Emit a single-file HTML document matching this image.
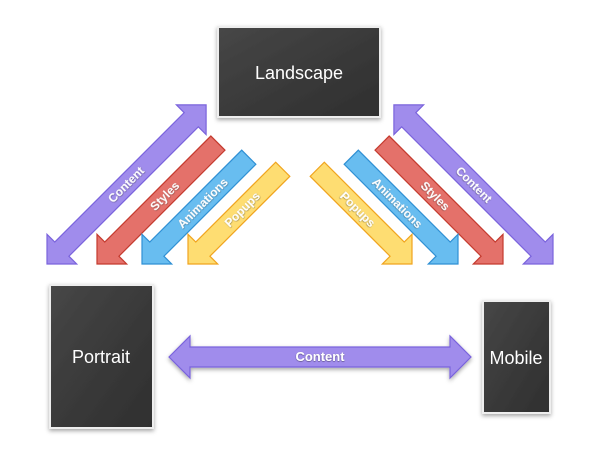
<!DOCTYPE html>
<html><head><style>
body{margin:0;background:#fff;width:600px;height:463px;overflow:hidden}
svg{display:block}
text{font-family:"Liberation Sans",sans-serif}
.lb{font-weight:bold;font-size:12px;fill:#fff}
.bx{font-size:18px;fill:#fff}
</style></head><body>
<svg width="600" height="463" viewBox="0 0 600 463">
<defs>
<linearGradient id="board" x1="0" y1="0" x2="1" y2="1"><stop offset="0" stop-color="#474747"/><stop offset="0.5" stop-color="#3a3a3a"/><stop offset="1" stop-color="#2f2f2f"/></linearGradient>
<filter id="sh" x="-20%" y="-20%" width="140%" height="140%"><feDropShadow dx="0" dy="2" stdDeviation="2" flood-color="#000" flood-opacity="0.35"/></filter>
<filter id="ts"><feDropShadow dx="0" dy="0.5" stdDeviation="0.6" flood-color="#000" flood-opacity="0.6"/></filter>
</defs>

<rect x="218" y="27" width="162" height="90" fill="url(#board)" stroke="#eee" stroke-width="2" filter="url(#sh)"/>
<text class="bx" x="299" y="79" text-anchor="middle">Landscape</text>
<rect x="50" y="285" width="103" height="143" fill="url(#board)" stroke="#eee" stroke-width="2" filter="url(#sh)"/>
<text class="bx" x="101" y="363" text-anchor="middle">Portrait</text>
<rect x="483" y="301" width="67" height="112" fill="url(#board)" stroke="#eee" stroke-width="2" filter="url(#sh)"/>
<text class="bx" x="516" y="364" text-anchor="middle">Mobile</text>

<polygon points="169,357 190,336 190,347 450,347 450,336 471,357 450,378 450,367 190,367 190,378" fill="#a08cec" stroke="#7a63dc" stroke-width="1.2" filter="url(#sh)"/>
<text class="lb" x="320" y="361" text-anchor="middle" filter="url(#ts)" style="font-size:13px">Content</text>

<g transform="translate(47,264) rotate(-45)">
<polygon points="0,0 21,-21 21,-10 204,-10 204,-21 225,0 204,21 204,10 21,10 21,21" fill="#a08cec" stroke="#7a63dc" stroke-width="1.2"/>
<text class="lb" x="112" y="4" text-anchor="middle" filter="url(#ts)">Content</text>
</g>
<g transform="translate(97,264) rotate(-45)">
<polygon points="0,0 21,-21 21,-10 171,-10 171,10 21,10 21,21" fill="#e4716a" stroke="#c43a2e" stroke-width="1.2"/>
<text class="lb" x="96" y="4" text-anchor="middle" filter="url(#ts)">Styles</text>
</g>
<g transform="translate(142,264) rotate(-45)">
<polygon points="0,0 21,-21 21,-10 151,-10 151,10 21,10 21,21" fill="#68bdf0" stroke="#2f90d4" stroke-width="1.2"/>
<text class="lb" x="86" y="4" text-anchor="middle" filter="url(#ts)">Animations</text>
</g>
<g transform="translate(188,264) rotate(-45)">
<polygon points="0,0 21,-21 21,-10 134,-10 134,10 21,10 21,21" fill="#fedd72" stroke="#f0a41e" stroke-width="1.2"/>
<text class="lb" x="77" y="4" text-anchor="middle" filter="url(#ts)">Popups</text>
</g>

<g transform="translate(553,264) rotate(-135)">
<polygon points="0,0 21,-21 21,-10 204,-10 204,-21 225,0 204,21 204,10 21,10 21,21" fill="#a08cec" stroke="#7a63dc" stroke-width="1.2"/>
</g>
<g transform="translate(503,264) rotate(-135)">
<polygon points="0,0 21,-21 21,-10 171,-10 171,10 21,10 21,21" fill="#e4716a" stroke="#c43a2e" stroke-width="1.2"/>
</g>
<g transform="translate(458,264) rotate(-135)">
<polygon points="0,0 21,-21 21,-10 151,-10 151,10 21,10 21,21" fill="#68bdf0" stroke="#2f90d4" stroke-width="1.2"/>
</g>
<g transform="translate(412,264) rotate(-135)">
<polygon points="0,0 21,-21 21,-10 134,-10 134,10 21,10 21,21" fill="#fedd72" stroke="#f0a41e" stroke-width="1.2"/>
</g>
<g transform="translate(553,264) rotate(45)"><text class="lb" x="-112" y="4" text-anchor="middle" filter="url(#ts)">Content</text></g>
<g transform="translate(503,264) rotate(45)"><text class="lb" x="-96" y="4" text-anchor="middle" filter="url(#ts)">Styles</text></g>
<g transform="translate(458,264) rotate(45)"><text class="lb" x="-86" y="4" text-anchor="middle" filter="url(#ts)">Animations</text></g>
<g transform="translate(412,264) rotate(45)"><text class="lb" x="-77" y="4" text-anchor="middle" filter="url(#ts)">Popups</text></g>
</svg>
</body></html>
